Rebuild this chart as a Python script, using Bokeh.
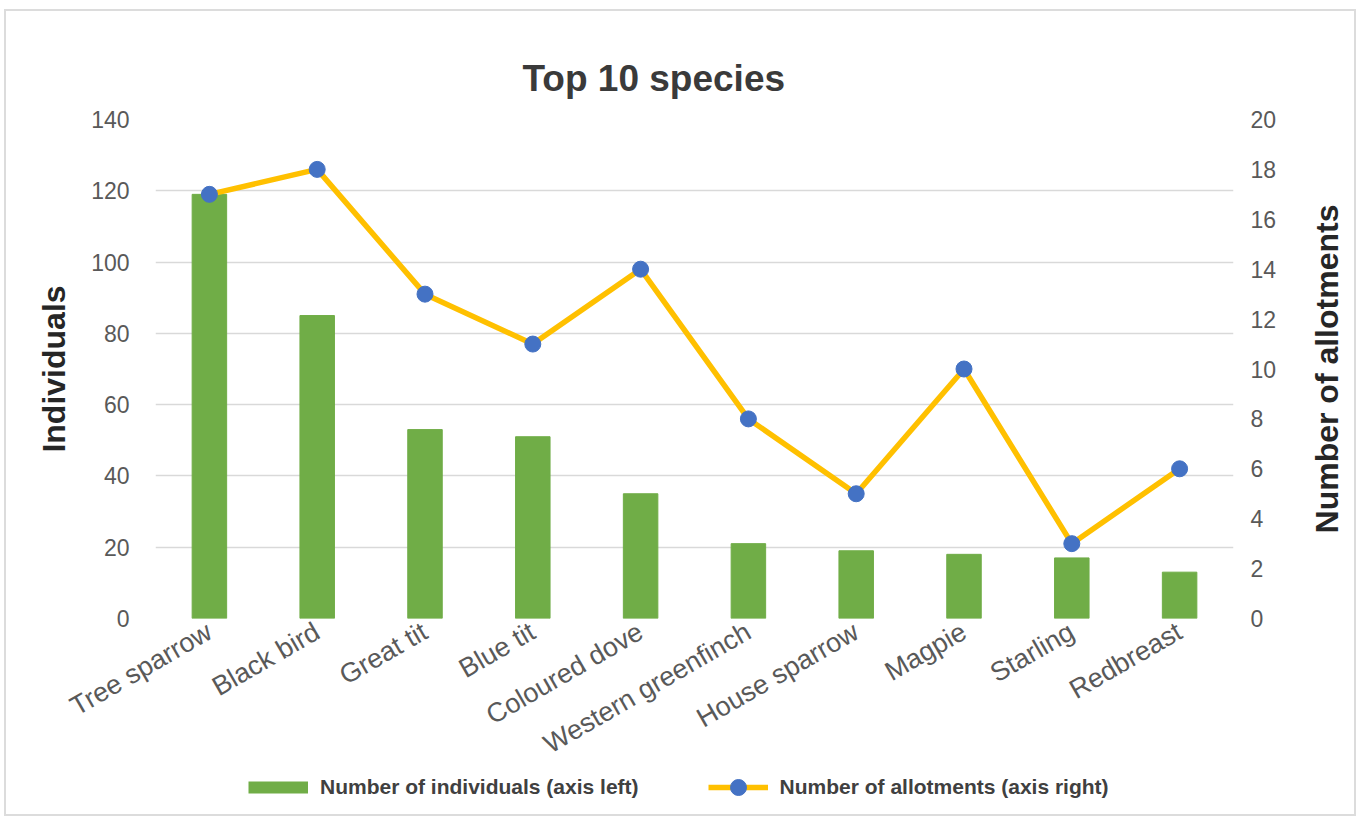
import math
from bokeh.plotting import figure
from bokeh.layouts import column, row
from bokeh.models import (Range1d, LinearAxis, FactorRange, Legend, LegendItem,
                          ColumnDataSource)
from bokeh.embed import file_html
from bokeh.resources import INLINE

species = ["Tree sparrow", "Black bird", "Great tit", "Blue tit", "Coloured dove",
           "Western greenfinch", "House sparrow", "Magpie", "Starling", "Redbreast"]
individuals = [119, 85, 53, 51, 35, 21, 19, 18, 17, 13]
allotments = [17, 18, 13, 11, 14, 8, 5, 10, 3, 6]
left_ticks = [0, 20, 40, 60, 80, 100, 120, 140]
right_ticks = [0, 2, 4, 6, 8, 10, 12, 14, 16, 18, 20]

src = ColumnDataSource(dict(species=species, individuals=individuals, allotments=allotments))

FONT = "Liberation Sans"
GRID = "#d9d9d9"
TICK = "#595959"
GREEN = "#70ad47"
GOLD = "#ffc000"
BLUE = "#4472c4"
LABEL = "#262626"
NAN = float("nan")

H_MAIN = 765
TOP, BOTTOM = 108, 158

p = figure(width=1287, height=H_MAIN,
           x_range=FactorRange(factors=species, range_padding=0),
           y_range=Range1d(0, 140),
           output_backend="svg", toolbar_location=None,
           min_border_left=149, min_border_right=60,
           min_border_top=TOP, min_border_bottom=BOTTOM)
p.outline_line_color = None
p.background_fill_color = "white"
p.border_fill_color = "white"
p.extra_y_ranges = {"right": Range1d(0, 20)}

p.vbar(x="species", top="individuals", width=0.32, source=src,
       fill_color=GREEN, line_color=GREEN)
p.line(x="species", y="allotments", source=src, y_range_name="right",
       line_color=GOLD, line_width=5.5)
p.scatter(x="species", y="allotments", source=src, y_range_name="right",
          size=16, fill_color=BLUE, line_color=BLUE)

# title
p.title.text = "Top 10 species"
p.title.align = "left"
p.title.offset = 367
p.title.text_font = FONT
p.title.text_font_size = "37px"
p.title.text_font_style = "bold"
p.title.text_color = "#3a3a3a"
p.title.standoff = 42

# left axis
ya = p.yaxis[0]
ya.ticker = left_ticks
ya.axis_label = "Individuals"
ya.axis_label_standoff = 16

# right axis (ticks only; its title is drawn by the narrow panel at right)
ra = LinearAxis(y_range_name="right", ticker=right_ticks)
p.add_layout(ra, "right")

for ax in (ya, ra):
    ax.axis_line_color = None
    ax.major_tick_line_color = None
    ax.minor_tick_line_color = None
    ax.major_tick_out = 0
    ax.major_tick_in = 0
    ax.major_label_text_font = FONT
    ax.major_label_text_font_size = "23px"
    ax.major_label_text_color = TICK
    ax.axis_label_text_font = FONT
    ax.axis_label_text_font_size = "32px"
    ax.axis_label_text_font_style = "bold"
    ax.axis_label_text_color = LABEL
ya.major_label_standoff = 26
ra.major_label_standoff = 17

xa = p.xaxis[0]
xa.axis_line_color = None
xa.major_tick_line_color = None
xa.minor_tick_line_color = None
xa.major_tick_out = 0
xa.major_tick_in = 0
xa.major_label_orientation = math.radians(30)
xa.major_label_text_font = FONT
xa.major_label_text_font_size = "27px"
xa.major_label_text_color = TICK
xa.major_label_standoff = 11

p.xgrid.visible = False
p.ygrid.ticker = left_ticks
p.ygrid.grid_line_color = GRID
p.ygrid.grid_line_width = 1.5

# narrow panel carrying the right axis title (reads bottom to top)
side = figure(width=61, height=H_MAIN, output_backend="svg", toolbar_location=None,
              x_axis_location=None, x_range=Range1d(0, 1), y_range=Range1d(0, 20),
              min_border_left=57, min_border_right=0,
              min_border_top=TOP, min_border_bottom=BOTTOM)
side.outline_line_color = None
side.background_fill_color = "white"
side.border_fill_color = "white"
side.xgrid.visible = False
side.ygrid.visible = False
side.scatter(x=[NAN], y=[NAN], size=0, fill_alpha=0, line_alpha=0)
sa = side.yaxis[0]
sa.ticker = [10]
sa.major_label_text_alpha = 0
sa.major_label_text_font_size = "1px"
sa.major_label_standoff = 0
sa.axis_line_color = None
sa.major_tick_line_color = None
sa.minor_tick_line_color = None
sa.major_tick_out = 0
sa.major_tick_in = 0
sa.axis_label = "Number of allotments"
sa.axis_label_standoff = 6
sa.axis_label_text_font = FONT
sa.axis_label_text_font_size = "32px"
sa.axis_label_text_font_style = "bold"
sa.axis_label_text_color = LABEL

# legend strip (swatch renderers hold no drawable points)
leg = figure(width=1348, height=38, output_backend="svg", toolbar_location=None,
             x_axis_location=None, y_axis_location=None, min_border=0)
leg.outline_line_color = None
leg.xgrid.visible = False
leg.ygrid.visible = False
sw_bar = leg.line(x=[NAN], y=[NAN], line_color=GREEN, line_width=12)
sw_line = leg.line(x=[NAN], y=[NAN], line_color=GOLD, line_width=5.5)
sw_dot = leg.scatter(x=[NAN], y=[NAN], fill_color=BLUE, line_color=BLUE)
legend = Legend(items=[LegendItem(label="Number of individuals (axis left)", renderers=[sw_bar]),
                       LegendItem(label="Number of allotments (axis right)", renderers=[sw_line, sw_dot])],
                orientation="horizontal", location=(242, 7),
                label_text_font=FONT, label_text_font_size="21px",
                label_text_font_style="bold", label_text_color="#404040",
                label_standoff=12, glyph_width=60, glyph_height=40, spacing=69,
                padding=0, margin=0, border_line_color=None, background_fill_alpha=0)
leg.add_layout(legend, "center")

layout = column(row(p, side), leg)
layout.styles = {"border": "2px solid #dcdcdc", "margin-left": "4px", "margin-top": "9px"}

open("out.html", "w").write(file_html(layout, INLINE))
